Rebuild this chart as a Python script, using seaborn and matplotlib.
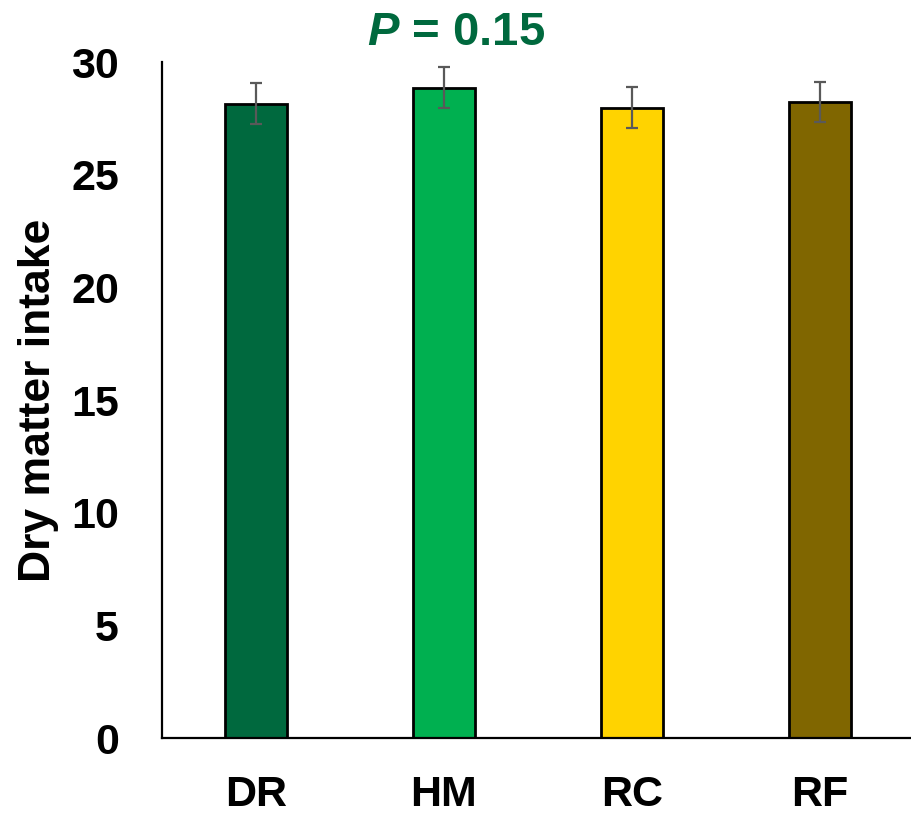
import matplotlib
matplotlib.use("Agg")
import matplotlib.pyplot as plt
import seaborn as sns
import pandas as pd

categories = ["DR", "HM", "RC", "RF"]
values = [28.15, 28.86, 27.98, 28.23]
errors = [0.9, 0.9, 0.9, 0.9]
colors = ["#00693E", "#00B050", "#FFD300", "#806600"]
yticks = [0, 5, 10, 15, 20, 25, 30]
title_p = "P"
title_rest = " = 0.15"
ylabel = "Dry matter intake"

sns.set_theme(style="white")
plt.rcParams["font.family"] = ["Liberation Sans", "DejaVu Sans"]
plt.rcParams["mathtext.fontset"] = "custom"
plt.rcParams["mathtext.it"] = "Liberation Sans:italic:bold"
plt.rcParams["mathtext.rm"] = "Liberation Sans:bold"
plt.rcParams["text.color"] = "black"
plt.rcParams["xtick.color"] = "black"
plt.rcParams["ytick.color"] = "black"
plt.rcParams["axes.labelcolor"] = "black"

df = pd.DataFrame({"cat": categories, "val": values})

fig = plt.figure(figsize=(9.12, 8.16), dpi=100)
ax = fig.add_axes([162 / 912, 1 - 738 / 816, 752 / 912, 676 / 816])

sns.barplot(data=df, x="cat", y="val", hue="cat", palette=colors,
            order=categories, hue_order=categories, width=0.325,
            saturation=1, edgecolor="black", linewidth=2, errorbar=None,
            legend=False, ax=ax)

xpos = ax.get_xticks()
ax.errorbar(xpos, values, yerr=errors, fmt="none", ecolor="#595959",
            elinewidth=1.6, capsize=4.5, capthick=1.6, zorder=5)

ax.set_ylim(0, 30)
ax.set_xlim(-0.5, 3.5)
ax.set_yticks(yticks)
ax.set_yticklabels([str(t) for t in yticks], fontsize=31, fontweight="bold")
ax.set_xticklabels(categories, fontsize=31, fontweight="bold")
ax.tick_params(axis="y", length=0, pad=31)
ax.tick_params(axis="x", length=0, pad=27)
ax.set_xlabel("")
ax.set_ylabel(ylabel, fontsize=32, fontweight="bold", labelpad=9)

for s in ["top", "right"]:
    ax.spines[s].set_visible(False)
for s in ["left", "bottom"]:
    ax.spines[s].set_color("black")
    ax.spines[s].set_linewidth(1.6)

fig.text(456 / 912, 1 - 45 / 816, r"$\it{" + title_p + "}$" + title_rest,
         ha="center", va="baseline", fontsize=34, fontweight="bold",
         color="#00693E")

fig.savefig("out.png", dpi=100)
